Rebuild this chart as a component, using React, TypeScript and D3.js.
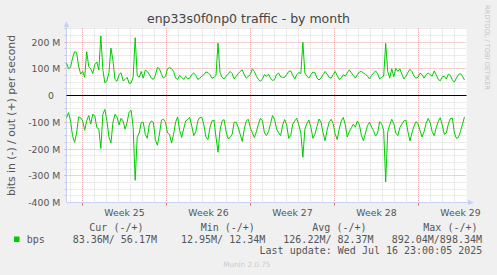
import React from 'react';
import * as d3 from 'd3';

const W = 497;
const H = 275;

// Outbound traffic (+), Mbit/s, one sample per ~4h over the month window
const outM = [
  121, 100, 105, 140, 164, 160, 110, 80, 90, 68,
  164, 108, 100, 82, 115, 125, 95, 223, 96, 47,
  55, 85, 177, 130, 60, 53, 78, 85, 55, 60,
  68, 45, 47, 70, 216, 75, 68, 90, 65, 95,
  90, 78, 65, 60, 75, 105, 100, 80, 65, 72,
  100, 105,
  100, 90, 65, 60, 75, 68, 60, 72,
  62, 65, 78, 84, 75, 60, 65, 72, 78, 88,
  86, 78, 65, 68, 75, 196, 85, 68, 62, 72,
  80, 90, 82, 62, 72, 82, 90, 96, 78, 65,
  72, 78, 100, 90, 72, 60, 53, 62, 78, 72,
  80,
  65, 56, 60, 78, 84, 70, 68, 68, 78,
  90, 92, 75, 62, 78, 86, 82, 199, 84, 72,
  65, 78, 88, 85, 65, 58, 65, 78, 90, 80,
  68, 65, 78, 90, 75, 60, 65, 78, 72, 85,
  96, 85, 75, 65, 78, 88, 90, 84, 80,
  72, 62, 75, 84, 92, 82, 62, 68, 72, 195, 90,
  65, 100, 70, 102, 90, 100, 80, 62, 72, 86,
  98, 90, 72, 65, 68, 84, 78, 65, 78, 84,
  78, 72, 92, 78, 60, 55, 70, 72, 62, 80,
  75, 58, 50, 65, 78, 82, 72, 58,
];

// Inbound traffic (-), Mbit/s magnitude
const inM = [
  83, 64, 95, 151, 175, 140, 80, 83, 95, 130,
  95, 75, 107, 70, 75, 120, 125, 198, 70, 52,
  95, 155, 178, 100, 70, 80, 110, 85, 95, 126,
  100, 62, 55, 120, 317, 155, 140, 101, 100, 145,
  160, 107, 95, 100, 165, 186, 144, 92, 89, 100,
  140, 145,
  178, 145, 100, 80, 130, 157, 125, 95,
  90, 82, 114, 150, 135, 95, 82, 82, 110, 155,
  165, 120, 95, 92, 155, 212, 130, 95, 90, 135,
  162, 157, 145, 100, 100, 120, 145, 172, 125, 95,
  89, 120, 140, 157, 135, 107, 85, 95, 140, 150,
  135,
  105, 75, 89, 125, 140, 150, 110, 90, 110,
  160, 150, 107, 95, 85, 110, 140, 231, 125, 105,
  92, 120, 160, 144, 115, 88, 100, 140, 169, 130,
  100, 89, 105, 144, 165, 125, 95, 82, 110, 155,
  135, 120, 107, 118, 95, 110, 150, 169, 140,
  112, 100, 118, 132, 152, 140, 98, 107, 130, 323, 135,
  110, 89, 105, 140, 150, 120, 107, 95, 92, 135,
  170, 140, 115, 98, 105, 132, 155, 135, 105, 86,
  101, 135, 150, 120, 98, 83, 110, 145, 140, 107,
  86, 85, 140, 160, 157, 135, 107, 80,
];

const SPAN_H = 800; // hours shown
const STEP_H = SPAN_H / 198; // sample step in hours
const yMajorTicks = [200, 100, 0, -100, -200, -300, -400];
const yTickLabels = ['200 M', '100 M', '0', '-100 M', '-200 M', '-300 M', '-400 M'];
const Y_MIN = -400;
const Y_MAX = 253;
const Y_MINOR_STEP = 25;
const weekStartH = [32, 200, 368, 536, 704];
const weekLabels = ['Week 25', 'Week 26', 'Week 27', 'Week 28', 'Week 29'];
const FIRST_DAY_H = 8;

const legendHeaders = ['Cur (-/+)', 'Min (-/+)', 'Avg (-/+)', 'Max (-/+)'];
const legendValues = ['83.36M/ 56.17M', '12.95M/ 12.34M', '126.22M/ 82.37M', '892.04M/898.34M'];
const seriesName = 'bps';
const title = 'enp33s0f0np0 traffic - by month';
const yLabel = 'bits in (-) / out (+) per second';
const lastUpdate = 'Last update: Wed Jul 16 23:00:05 2025';

const GREEN = '#00cc00';
const AXIS = '#c8d0f4';
const TXT = '#555555';
const SANS = '"DejaVu Sans", sans-serif';
const MONO = '"DejaVu Sans Mono", monospace';

const crisp = (v: number) => Math.round(v - 0.5) + 0.5;

export default function App() {
  const x = d3.scaleLinear().domain([0, SPAN_H]).range([66.5, 466.5]);
  const y = d3.scaleLinear().domain([Y_MIN, 0]).range([202.5, 95.5]);
  const top = y(Y_MAX);
  const left = x(0);
  const right = x(SPAN_H);
  const bottom = y(Y_MIN);

  const lineOut = d3
    .line<number>()
    .x((_, i) => x(i * STEP_H))
    .y((d) => y(d));
  const lineIn = d3
    .line<number>()
    .x((_, i) => x(i * STEP_H))
    .y((d) => y(-d));

  const minorY = d3.range(Y_MIN + Y_MINOR_STEP, Y_MAX, Y_MINOR_STEP).filter((v) => v % 100 !== 0);
  const dayLines = d3.range(FIRST_DAY_H, SPAN_H, 24).filter((h) => !weekStartH.includes(h));

  const legendHeaderX = [89.3, 200.7, 312.3, 423.3];
  const legendValueX = [72.7, 181, 283.3, 391.7];

  return (
    <svg
      width={W}
      height={H}
      style={{ position: 'fixed', left: 0, top: 0, background: '#f0f0f0' }}
    >
      <rect x={0} y={0} width={W} height={H} fill="#f0f0f0" />
      <rect x={left} y={top} width={right - left} height={bottom - top} fill="#ffffff" />

      {/* minor horizontal grid */}
      {minorY.map((v) => (
        <g key={'mh' + v}>
          <line x1={left} x2={right} y1={crisp(y(v))} y2={crisp(y(v))} stroke="#d8d8d8" strokeDasharray="1,1" />
          <line x1={left - 2} x2={left} y1={crisp(y(v))} y2={crisp(y(v))} stroke="#c8c8c8" />
        </g>
      ))}
      {/* minor vertical grid */}
      {dayLines.map((h) => (
        <line key={'mv' + h} x1={crisp(x(h))} x2={crisp(x(h))} y1={top} y2={bottom} stroke="#d8d8d8" strokeDasharray="1,1" />
      ))}
      {/* major horizontal grid */}
      {yMajorTicks.filter((v) => v !== 0 && v !== Y_MIN).map((v) => (
        <g key={'Mh' + v}>
          <line x1={left} x2={right} y1={crisp(y(v))} y2={crisp(y(v))} stroke="#eaa0a0" strokeDasharray="1,1" />
          <line x1={left - 2} x2={left} y1={crisp(y(v))} y2={crisp(y(v))} stroke="#e8a0a0" />
        </g>
      ))}
      {/* major vertical grid */}
      {weekStartH.map((h) => (
        <g key={'Mv' + h}>
          <line x1={crisp(x(h))} x2={crisp(x(h))} y1={top} y2={bottom} stroke="#eaa0a0" strokeDasharray="1,1" />
          <line x1={crisp(x(h))} x2={crisp(x(h))} y1={bottom} y2={bottom + 3} stroke="#e07070" />
        </g>
      ))}

      {/* axes */}
      <line x1={left} x2={left} y1={bottom} y2={24} stroke={AXIS} />
      <line x1={left} x2={470} y1={bottom} y2={bottom} stroke={AXIS} />
      <path d={`M${left},21 L${left - 2.7},27 L${left + 2.7},27 Z`} fill={AXIS} />
      <path d={`M474,${bottom} L468,${bottom - 2.7} L468,${bottom + 2.7} Z`} fill={AXIS} />

      {/* zero line */}
      <line x1={left} x2={right} y1={crisp(y(0))} y2={crisp(y(0))} stroke="#000000" />

      {/* series */}
      <path d={lineOut(outM) || ''} fill="none" stroke={GREEN} strokeWidth={1} />
      <path d={lineIn(inM) || ''} fill="none" stroke={GREEN} strokeWidth={1} />

      {/* y tick labels */}
      {yMajorTicks.map((v, i) => (
        <text
          key={'yl' + v}
          x={v === 0 ? 53.8 : 60.3}
          y={crisp(y(v)) + 3.5}
          textAnchor="end"
          fontFamily={SANS}
          fontSize={9.3}
          fill={TXT}
        >
          {yTickLabels[i]}
        </text>
      ))}

      {/* week labels */}
      {weekStartH.map((h, i) => (
        <text key={'wl' + h} x={x(h + 84)} y={216} textAnchor="middle" fontFamily={SANS} fontSize={9.3} fill={TXT}>
          {weekLabels[i]}
        </text>
      ))}

      {/* title */}
      <text x={248.5} y={23} textAnchor="middle" fontFamily={SANS} fontSize={12.5} fill="#444444">
        {title}
      </text>

      {/* y axis label */}
      <text
        transform={`translate(15,115.5) rotate(-90)`}
        textAnchor="middle"
        fontFamily={SANS}
        fontSize={10.8}
        fill={TXT}
      >
        {yLabel}
      </text>

      {/* watermark right */}
      <text
        transform={`translate(485,5) rotate(90)`}
        textAnchor="start"
        fontFamily={SANS}
        fontSize={6.6}
        fill="#c4c4c4"
      >
        RRDTOOL / TOBI OETIKER
      </text>

      {/* legend */}
      {legendHeaders.map((t, i) => (
        <text key={'lh' + i} x={legendHeaderX[i]} y={231} fontFamily={MONO} fontSize={10} fill={TXT} style={{ whiteSpace: 'pre' }}>
          {t}
        </text>
      ))}
      <rect x={14} y={236.5} width={5.5} height={5.5} fill={GREEN} />
      <text x={26.7} y={242.5} fontFamily={MONO} fontSize={10} fill={TXT}>
        {seriesName}
      </text>
      {legendValues.map((t, i) => (
        <text key={'lv' + i} x={legendValueX[i]} y={242.5} fontFamily={MONO} fontSize={10} fill={TXT} style={{ whiteSpace: 'pre' }}>
          {t}
        </text>
      ))}
      <text x={482.3} y={254} textAnchor="end" fontFamily={MONO} fontSize={10} fill={TXT} style={{ whiteSpace: 'pre' }}>
        {lastUpdate}
      </text>

      <text x={223.3} y={266.7} fontFamily={SANS} fontSize={7.2} fill="#cccccc">
        Munin 2.0.75
      </text>
    </svg>
  );
}
